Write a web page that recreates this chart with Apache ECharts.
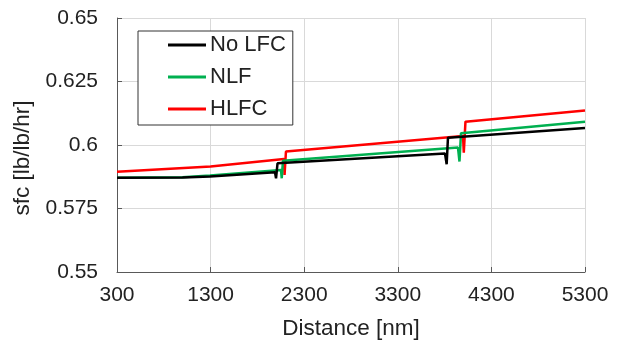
<!DOCTYPE html>
<html>
<head>
<meta charset="utf-8">
<script src="https://cdn.jsdelivr.net/npm/echarts@6/dist/echarts.min.js"></script>
<style>
  html, body { margin: 0; padding: 0; background: #fff; }
  #chart { width: 627px; height: 347px; }
</style>
</head>
<body>
<div id="chart"></div>
<script>
const xTicks = [300, 1300, 2300, 3300, 4300, 5300]
const yTicks = [0.55, 0.575, 0.6, 0.625, 0.65]

const seriesNames = ['No LFC', 'NLF', 'HLFC']

// No LFC
const noLfcDist = [300, 1000, 1294, 1988, 1999, 2015, 3804, 3822, 3836, 5300]
const noLfcSfc = [0.5871, 0.5872, 0.5876, 0.5893, 0.5869, 0.5928, 0.5967, 0.5924, 0.6029, 0.6067]

// NLF
const nlfDist = [300, 1000, 1294, 2052, 2060, 2073, 3943, 3959, 3975, 5300]
const nlfSfc = [0.5871, 0.5873, 0.5880, 0.5902, 0.5869, 0.5938, 0.5990, 0.5935, 0.6046, 0.6092]

// HLFC
const hlfcDist = [300, 1300, 2084, 2090, 2105, 3997, 4005, 4023, 5300]
const hlfcSfc = [0.5895, 0.5915, 0.5945, 0.5882, 0.5974, 0.6035, 0.5970, 0.6092, 0.6136]

const colors = ['#000000', '#00b050', '#ff0000']

function pairs(xs, ys) {
  return xs.map((x, i) => [x, ys[i]])
}

const font = 'Liberation Sans, Arial, sans-serif'
const textColor = '#222'

const chart = echarts.init(document.getElementById('chart'))
chart.setOption({
  animation: false,
  textStyle: { fontFamily: font },
  grid: { left: 117, right: 42, top: 18, bottom: 75 },
  legend: {
    orient: 'vertical',
    left: 138,
    top: 31,
    padding: [3, 7, 5, 30],
    icon: 'rect',
    itemWidth: 38,
    itemHeight: 3,
    itemGap: 10,
    borderColor: '#333',
    borderWidth: 1,
    backgroundColor: '#fff',
    data: seriesNames,
    textStyle: { fontSize: 22, lineHeight: 22, color: textColor, fontFamily: font, padding: [0, 0, 0, -1] },
  },
  xAxis: {
    type: 'value',
    min: xTicks[0],
    max: xTicks[xTicks.length - 1],
    interval: 1000,
    name: 'Distance [nm]',
    nameLocation: 'middle',
    nameGap: 45,
    nameTextStyle: { fontSize: 22.5, color: textColor, fontFamily: font },
    axisLine: { lineStyle: { color: '#595959', width: 1 } },
    axisTick: { inside: true, length: 5, lineStyle: { color: '#595959' } },
    axisLabel: { fontSize: 21, color: textColor, margin: 13, fontFamily: font, formatter: v => String(v) },
    splitLine: { show: true, lineStyle: { color: '#d9d9d9', width: 1 } },
  },
  yAxis: {
    type: 'value',
    min: yTicks[0],
    max: yTicks[yTicks.length - 1],
    interval: 0.025,
    name: 'sfc [lb/lb/hr]',
    nameLocation: 'middle',
    nameGap: 79,
    nameTextStyle: { fontSize: 22.5, color: textColor, fontFamily: font, padding: [0, 26, 0, 0] },
    axisLine: { show: true, lineStyle: { color: '#595959', width: 1 } },
    axisTick: { show: true, inside: true, length: 5, lineStyle: { color: '#595959' } },
    axisLabel: {
      fontSize: 21,
      color: textColor,
      margin: 19,
      fontFamily: font,
      formatter: v => String(+v.toFixed(3)),
    },
    splitLine: { show: true, lineStyle: { color: '#d9d9d9', width: 1 } },
  },
  series: [
    { name: seriesNames[0], data: pairs(noLfcDist, noLfcSfc) },
    { name: seriesNames[1], data: pairs(nlfDist, nlfSfc) },
    { name: seriesNames[2], data: pairs(hlfcDist, hlfcSfc) },
  ].map((s, i) => ({
    ...s,
    type: 'line',
    symbol: 'none',
    z: 10 - i,
    lineStyle: { color: colors[i], width: 2.5 },
    itemStyle: { color: colors[i] },
  })),
})
</script>
</body>
</html>
